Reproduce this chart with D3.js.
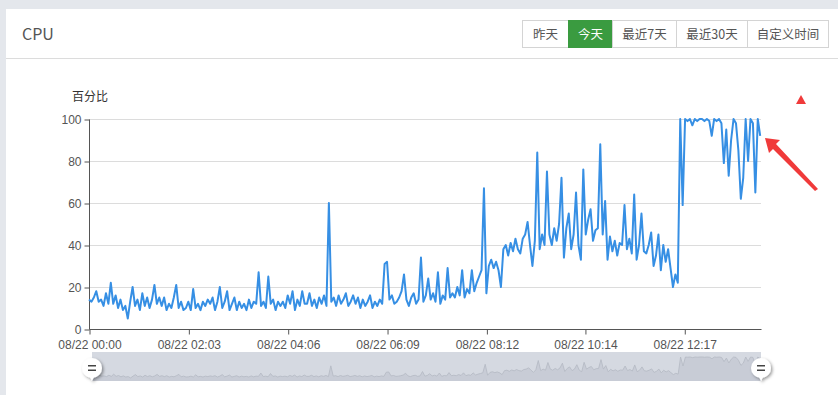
<!DOCTYPE html>
<html><head><meta charset="utf-8">
<script src="https://cdn.jsdelivr.net/npm/d3@7"></script>
<style>
html,body{margin:0;padding:0;background:#e4e7ec;}
body{width:838px;height:395px;overflow:hidden;font-family:"Noto Sans CJK SC","Noto Sans",sans-serif;}
</style></head>
<body>
<svg id="c" width="838" height="395"></svg>
<script>
// ---- data ----
const title = "CPU";
const buttons = ["昨天", "今天", "最近7天", "最近30天", "自定义时间"];
const activeButton = "今天";
const yAxisName = "百分比";
const yTicks = [0, 20, 40, 60, 80, 100];
const xTickMinutes = [0, 123, 246, 369, 492, 614, 737];
const xTickLabels = ["08/22 00:00", "08/22 02:03", "08/22 04:06", "08/22 06:09", "08/22 08:12", "08/22 10:14", "08/22 12:17"];
const totalMinutes = 832;
const stepMinutes = 3;
const cpu = [
 14,13,15,18,13,14,11,17,12,22,
 12,16,10,14,9,11,5,13,20,11,
 14,9,17,11,15,10,14,21,12,15,
 11,15,9,12,10,15,21,10,13,9,
 10,13,9,19,10,12,9,13,11,14,
 12,15,9,13,20,10,13,18,9,12,
 15,9,13,10,12,9,14,10,13,12,
 27,11,13,10,25,12,14,9,13,11,
 13,10,16,12,18,9,14,11,18,12,
 12,17,11,14,10,15,12,16,11,60,
 13,15,11,16,12,14,17,11,13,16,
 12,15,10,14,11,13,16,10,13,11,
 14,12,31,32,14,16,12,13,15,18,
 26,14,11,15,17,12,14,34,13,16,
 24,14,17,13,27,12,16,14,29,15,
 17,15,20,16,28,15,19,17,28,18,
 22,25,28,67,17,30,33,29,32,28,
 20,38,40,35,41,37,43,38,36,43,
 45,51,40,30,42,84,38,45,40,75,
 45,40,48,42,50,72,34,48,55,38,
 45,65,40,33,76,45,52,57,42,47,
 48,88,45,61,33,44,37,42,35,41,
 40,59,38,43,36,64,33,40,55,37,
 36,40,46,30,35,45,28,40,32,38,
 29,20,26,22,100,59,100,99,100,97,
 100,99,100,100,99,100,99,92,100,99,
 100,98,79,95,73,90,100,98,85,62,
 72,100,80,100,98,65,100,92
];

// ---- layout ----
const svg = d3.select("#c");
const font = '"Noto Sans CJK SC","Noto Sans",sans-serif';
const numFont = '"Liberation Sans",Arial,sans-serif';

// card
svg.append("rect").attr("x", 6).attr("y", 9).attr("width", 832).attr("height", 386).attr("fill", "#fff");
svg.append("line").attr("x1", 6).attr("x2", 838).attr("y1", 58.5).attr("y2", 58.5).attr("stroke", "#dcdcdc");
svg.append("text").attr("x", 22).attr("y", 40).attr("font-size", 16).attr("fill", "#555")
  .attr("font-family", font).text(title);

// buttons
const btnEdges = [522, 568, 612, 676, 747, 828];
const bx = d3.scaleOrdinal().domain(buttons).range(btnEdges.slice(0, -1));
buttons.forEach((b, i) => {
  const x0 = bx(b), x1 = btnEdges[i + 1];
  const active = b === activeButton;
  svg.append("rect").attr("x", x0 + 0.5).attr("y", 20.5).attr("width", x1 - x0).attr("height", 27)
    .attr("fill", active ? "#3a9b40" : "#fff").attr("stroke", active ? "#3a9b40" : "#d4d4d4");
  svg.append("text").attr("x", (x0 + x1) / 2 + 0.5).attr("y", 38.5).attr("text-anchor", "middle")
    .attr("font-size", 12.5).attr("font-family", font).attr("fill", active ? "#fff" : "#555").text(b);
});

// scales
const x = d3.scaleLinear().domain([0, totalMinutes]).range([89, 761]);
const y = d3.scaleLinear().domain([0, 100]).range([329, 119]);

// grid
svg.append("g").selectAll("line").data(yTicks.filter(d => d > 0)).join("line")
  .attr("x1", 89).attr("x2", 761).attr("y1", d => Math.round(y(d)) + 0.5).attr("y2", d => Math.round(y(d)) + 0.5)
  .attr("stroke", "#dcdcdc").attr("stroke-width", 1);

// y axis
const yAxis = svg.append("g").attr("transform", "translate(89.5,0.5)")
  .call(d3.axisLeft(y).tickValues(yTicks).tickSize(5).tickPadding(3));
yAxis.select(".domain").attr("stroke", "#555").attr("d", "M0," + y(100) + "V" + y(0));
yAxis.selectAll(".tick line").attr("stroke", "#555");
yAxis.selectAll("text").attr("font-size", 12).attr("fill", "#555").attr("font-family", numFont).attr("dy", "0.3em");

svg.append("text").attr("x", 90).attr("y", 101).attr("text-anchor", "middle").attr("font-size", 12)
  .attr("fill", "#333").attr("font-family", font).text(yAxisName);

// x axis
const xAxis = svg.append("g").attr("transform", "translate(0.5,329.5)")
  .call(d3.axisBottom(x).tickValues(xTickMinutes).tickFormat((d, i) => xTickLabels[i]).tickSize(5).tickPadding(6));
xAxis.select(".domain").attr("stroke", "#555").attr("d", "M89,0H761");
xAxis.selectAll(".tick line").attr("stroke", "#555");
xAxis.selectAll("text").attr("font-size", 12).attr("fill", "#555").attr("font-family", numFont).attr("dy", "0.71em");

// line
const line = d3.line().x((d, i) => x(i * stepMinutes)).y(d => y(d));
svg.append("path").datum(cpu).attr("d", line).attr("fill", "none")
  .attr("stroke", "#368fe4").attr("stroke-width", 2).attr("stroke-linejoin", "round");

// data zoom slider
const sx = d3.scaleLinear().domain([0, totalMinutes]).range([92, 761]);
const sy = d3.scaleLinear().domain([0, 100]).range([379, 357]);
svg.append("rect").attr("x", 92).attr("y", 352).attr("width", 669).attr("height", 29).attr("fill", "#d5d9e1");
const area = d3.area().x((d, i) => sx(i * stepMinutes)).y0(381).y1(d => sy(d));
svg.append("path").datum(cpu).attr("d", area).attr("fill", "#c8ccd6");
svg.append("path").datum(cpu).attr("d", d3.line().x((d, i) => sx(i * stepMinutes)).y(d => sy(d)))
  .attr("fill", "none").attr("stroke", "#b4b9c3").attr("stroke-width", 0.8);

const defs = svg.append("defs");
const f = defs.append("filter").attr("id", "sh").attr("x", "-50%").attr("y", "-50%").attr("width", "200%").attr("height", "200%");
f.append("feDropShadow").attr("dx", 1.5).attr("dy", 1.5).attr("stdDeviation", 1.5).attr("flood-color", "#000").attr("flood-opacity", 0.4);
[0, totalMinutes].forEach(m => {
  const cx = sx(m), cy = 368;
  const g = svg.append("g").attr("filter", "url(#sh)");
  g.append("circle").attr("cx", cx).attr("cy", cy).attr("r", 10).attr("fill", "#fff");
  g.append("path").attr("d", `M${cx - 2},${cy + 9}l2,4l2,-4z`).attr("fill", "#fff");
  svg.append("rect").attr("x", cx - 4).attr("y", cy - 3).attr("width", 8).attr("height", 1.5).attr("fill", "#444");
  svg.append("rect").attr("x", cx - 4).attr("y", cy + 1.5).attr("width", 8).attr("height", 1.5).attr("fill", "#444");
});

// annotations (red marker and arrow)
svg.append("path").attr("d", "M801,95L806,104L796,104Z").attr("fill", "#f03a3a");
svg.append("path").attr("d", "M818,189L776,144L780,140L765,138L769,153L773,149L815,191Z").attr("fill", "#f03a3a");
</script>
</body></html>
